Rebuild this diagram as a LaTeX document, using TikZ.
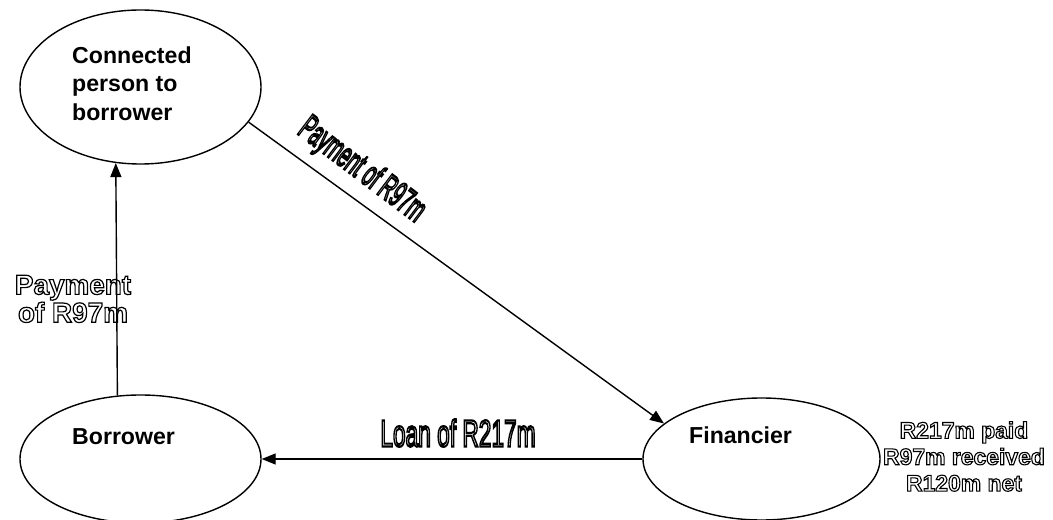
\documentclass[tikz,border=0pt]{standalone}
\usepackage{fontspec}
\setmainfont{Liberation Sans}
\usetikzlibrary{arrows.meta,shapes.geometric}
\newcommand\outon[1]{\special{pdf:literal direct 1 Tr #1 w}}
\newcommand\outoff{\special{pdf:literal direct 0 Tr}}
\begin{document}
\begin{tikzpicture}[x=1bp,y=-1bp,
  ell/.style={draw, ellipse, line width=1.4bp, inner sep=0pt},
  arr/.style={line width=1.4bp, -{Triangle[length=14bp,width=11bp]}},
  boldlbl/.style={inner sep=0pt, font=\bfseries\fontsize{23.2}{28.5}\selectfont},
  outlbl/.style={inner sep=0pt, align=center}]
\useasboundingbox (0,0) rectangle (1053,520);
% ellipses
\node[ell, minimum width=241bp, minimum height=154bp] (conn) at (140.5,87) {};
\node[ell, minimum width=241bp, minimum height=128bp] (borr) at (140.5,459) {};
\node[ell, minimum width=237bp, minimum height=122bp] (fin) at (761.5,459) {};
% connectors
\draw[arr] (borr.110.5) -- (conn.252.7);
\draw[arr] (conn.-18.8) -- (fin.160);
\draw[arr] (fin.west) -- (borr.east);
% bold labels
\node[boldlbl, align=left, anchor=north west] (tconn) at (72,46.5) {Connected\\person to\\borrower};
\node[boldlbl, anchor=base west] (tborr) at (72,444) {Borrower};
\node[boldlbl, anchor=base west] (tfin) at (689,443) {Financier};
% outlined labels
\node[outlbl, anchor=base, font=\fontsize{38}{40}\selectfont] (tloan) at (458,446.5) {\outon{2.2}\scalebox{0.6}[1]{Loan of R217m}\outoff};
\node[outlbl, anchor=base, rotate=-37, font=\fontsize{36}{38}\selectfont] (tdiag) at (356,178) {\outon{2.2}\scalebox{0.52}[1]{Payment of R97m}\outoff};
\node[outlbl, anchor=north, font=\bfseries\fontsize{28}{28}\selectfont] (tpay) at (73,275) {\outon{1.2}Payment\\of R97m\outoff};
\node[outlbl, anchor=north, font=\bfseries\fontsize{23}{26.5}\selectfont] (tnet) at (964,421.5) {\outon{1.1}R217m paid\\R97m received\\R120m net\outoff};
\end{tikzpicture}
\end{document}
